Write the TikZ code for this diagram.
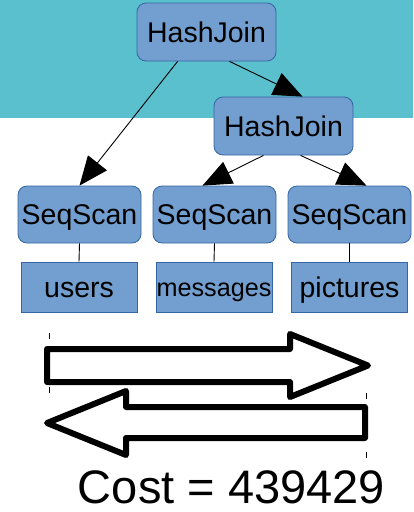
\documentclass[tikz,border=0pt]{standalone}
\usepackage{fontspec}
\setmainfont{Liberation Sans}
\usetikzlibrary{arrows.meta}
\definecolor{band}{HTML}{5BC0CE}
\definecolor{boxfill}{HTML}{729FCF}
\definecolor{boxline}{HTML}{3465A4}
\tikzset{
  opbox/.style={draw=boxline, line width=0.8pt, fill=boxfill, rounded corners=9pt,
    minimum width=123pt, minimum height=57pt, inner sep=0pt,
    text height=20.4pt, text depth=0pt, font=\fontsize{28.5}{30}\selectfont},
  tablebox/.style={draw=boxline, line width=0.8pt, fill=boxfill,
    minimum width=116pt, minimum height=50pt, inner sep=0pt,
    text height=21.4pt, text depth=0pt, font=\fontsize{28.5}{30}\selectfont},
  headtip/.tip={Triangle[length=29pt,width=24pt]},
  flow/.style={line width=0.9pt, -headtip},
  link/.style={line width=0.9pt},
  bigarrow/.style={line width=6pt, line join=round, fill=white},
  tick/.style={line width=0.8pt}
}
\begin{document}
\begin{tikzpicture}[x=1pt, y=-1pt]
  \useasboundingbox (0,0) rectangle (413,512);
  % background band
  \fill[band] (0,0) rectangle (413,118);

  % operator nodes
  \node[opbox, minimum width=139pt, minimum height=58pt] (hj1) at (206.5,32) {HashJoin};
  \node[opbox, minimum width=139pt, minimum height=58pt] (hj2) at (283.5,126) {HashJoin};
  \node[opbox] (s1) at (79.5,214.5) {SeqScan};
  \node[opbox] (s2) at (214.5,214.5) {SeqScan};
  \node[opbox] (s3) at (349.5,214.5) {SeqScan};

  % tables
  \node[tablebox] (t1) at (79,287) {users};
  \node[tablebox, font=\fontsize{25.2}{27}\selectfont, text height=18pt] (t2) at (214,287) {messages};
  \node[tablebox] (t3) at (349.5,287) {pictures};

  % anchor points on the join boxes
  \coordinate (a1) at ([xshift=41pt]hj1.south west);
  \coordinate (a2) at ([xshift=23pt]hj1.south);
  \coordinate (a3) at ([xshift=-20pt]hj2.south);
  \coordinate (a4) at ([xshift=17pt]hj2.south);

  % plan edges
  \draw[flow] (a1) -- (s1.north);
  \draw[flow] (a2) -- ([xshift=19pt]hj2.north);
  \draw[flow] (a3) -- ([xshift=-12pt]s2.north);
  \draw[flow] (a4) -- ([xshift=17pt]s3.north);

  % scan to table links
  \draw[link] (s1.south) -- (t1.north);
  \draw[link] (s2.south) -- (t2.north);
  \draw[link] (s3.south) -- (t3.north);

  % outline arrows
  \coordinate (r0) at (47,349);
  \draw[bigarrow] (r0) -- (290,349) -- (290,334) -- (368,365.5) -- (290,397) -- (290,382) -- (47,382) -- cycle;
  \coordinate (l0) at (365,407);
  \draw[bigarrow] (l0) -- (126,407) -- (126,391) -- (47,423) -- (126,455) -- (126,438) -- (365,438) -- cycle;

  % selection ticks
  \draw[tick] (49,333) -- (49,339);
  \draw[tick] (49,387) -- (49,393);
  \draw[tick] (366,393) -- (366,399);
  \draw[tick] (366,452) -- (366,458);

  % cost label
  \node[anchor=base, font=\fontsize{47}{50}\selectfont, inner sep=0pt] (cost) at (231.5,503) {Cost = 439429};
\end{tikzpicture}
\end{document}
